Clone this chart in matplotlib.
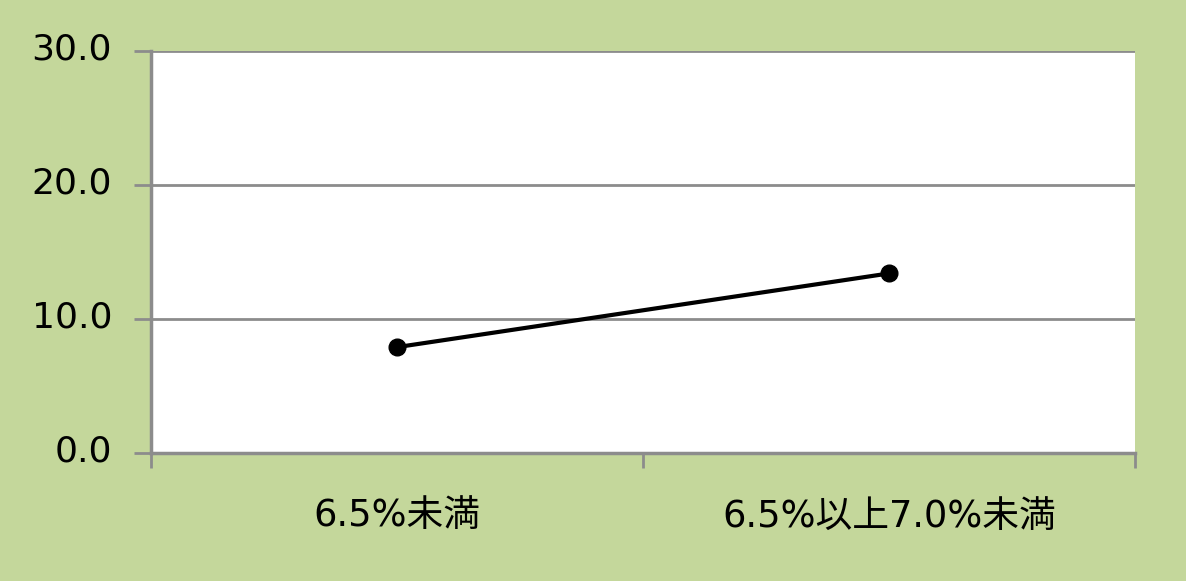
import matplotlib
matplotlib.use("Agg")
import matplotlib.pyplot as plt
from matplotlib.ticker import FixedLocator, NullFormatter
from matplotlib.transforms import ScaledTranslation

categories = ["6.5%未満", "6.5%以上7.0%未満"]
values = [7.9, 13.4]
yticks = [0.0, 10.0, 20.0, 30.0]

plt.rcParams['font.family'] = ['DejaVu Sans', 'Noto Sans CJK JP']

bg = "#C4D79B"
fig = plt.figure(figsize=(11.86, 5.81), dpi=100, facecolor=bg)
ax = fig.add_axes([151/1186, 1-453/581, (1135-151)/1186, (453-51)/581])
ax.set_facecolor("white")

x = list(range(len(categories)))
ax.plot(x, values, color="black", lw=3, marker="o", ms=12, zorder=3, clip_on=False)

ax.set_xlim(-0.5, len(categories)-0.5)
ax.set_ylim(0, 30)
ax.set_yticks(yticks)
ax.set_yticklabels([f"{v:.1f}" for v in yticks])
ax.yaxis.grid(True, color="#8C8C8C", lw=2)
ax.set_axisbelow(True)

ax.set_xticks(x)
ax.set_xticklabels(categories)
ax.tick_params(axis='x', which='major', length=0, pad=32, labelsize=26.5)
ax.xaxis.set_minor_locator(FixedLocator([-0.5, 0.5, 1.5]))
ax.xaxis.set_minor_formatter(NullFormatter())
ax.tick_params(axis='x', which='minor', length=11, width=2, color="#8C8C8C", direction='out')
ax.tick_params(axis='y', length=12, width=2, color="#8C8C8C", labelsize=26, pad=16)

shift = ScaledTranslation(0, 5/100, fig.dpi_scale_trans)
for lab in ax.get_yticklabels():
    lab.set_transform(lab.get_transform() + shift)

for side in ["top", "right"]:
    ax.spines[side].set_visible(False)
for side in ["left", "bottom"]:
    ax.spines[side].set_color("#8C8C8C")
    ax.spines[side].set_linewidth(2.5)

fig.savefig("out.png", dpi=100, facecolor=bg)
